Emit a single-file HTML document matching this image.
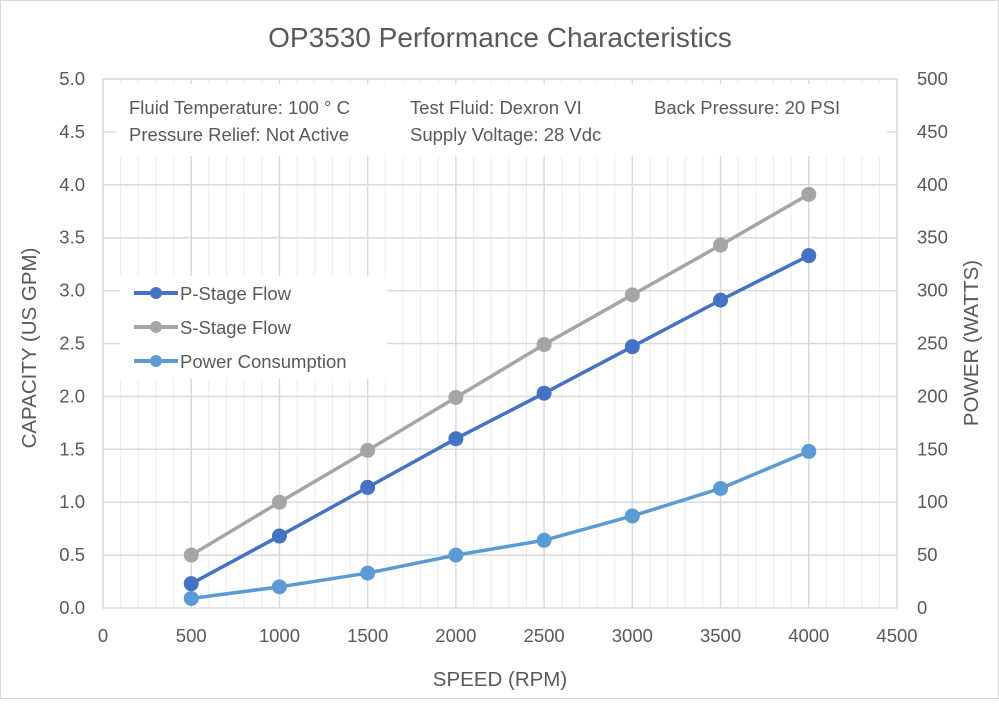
<!DOCTYPE html>
<html><head><meta charset="utf-8"><style>
body{margin:0;background:#fff}
svg text{font-family:"Liberation Sans",sans-serif;fill:#595959}
</style></head><body>
<svg width="999" height="699" xmlns="http://www.w3.org/2000/svg">
<rect x="0.5" y="0.5" width="998" height="698" fill="#fff" stroke="#d9d9d9"/>
<text x="500" y="47" font-size="28" text-anchor="middle">OP3530 Performance Characteristics</text>
<g id="grid"></g>
<rect x="116" y="84" width="771" height="72" fill="#fff"/>
<rect x="120" y="276" width="267" height="103" fill="#fff"/>
<g font-size="18.5">
<text x="129" y="114">Fluid Temperature:  100 ° C</text>
<text x="129" y="141">Pressure Relief: Not Active</text>
<text x="410" y="114">Test Fluid: Dexron VI</text>
<text x="410" y="141">Supply Voltage: 28 Vdc</text>
<text x="654" y="114">Back Pressure: 20 PSI</text>
</g>
<g id="series"></g>
<g font-size="18.5">
<line x1="134" y1="293" x2="178" y2="293" stroke="#4472C4" stroke-width="4"/><circle cx="156" cy="293" r="6" fill="#4472C4"/>
<text x="180" y="300">P-Stage Flow</text>
<line x1="134" y1="327" x2="178" y2="327" stroke="#A5A5A5" stroke-width="4"/><circle cx="156" cy="327" r="6" fill="#A5A5A5"/>
<text x="180" y="334">S-Stage Flow</text>
<line x1="134" y1="361" x2="178" y2="361" stroke="#5B9BD5" stroke-width="4"/><circle cx="156" cy="361" r="6" fill="#5B9BD5"/>
<text x="180" y="368">Power Consumption</text>
</g>
<g font-size="18.5" id="ticks"></g>
<text x="500" y="686" font-size="20.5" text-anchor="middle">SPEED (RPM)</text>
<text transform="translate(36,348) rotate(-90)" font-size="20.5" text-anchor="middle">CAPACITY (US GPM)</text>
<text transform="translate(978,343) rotate(-90)" font-size="20.5" text-anchor="middle">POWER (WATTS)</text>
</svg>
<script>
const ns="http://www.w3.org/2000/svg";
const X0=103,X1=897,Y0=608,Y1=79;
const xs=v=>X0+(X1-X0)*v/4500, ys=v=>Y0-(Y0-Y1)*v/5;
function el(p,t,a,txt){const e=document.createElementNS(ns,t);for(const k in a)e.setAttribute(k,a[k]);if(txt!=null)e.textContent=txt;document.getElementById(p).appendChild(e);}
for(let v=100;v<4500;v+=100){const maj=v%500==0;el("grid","line",{x1:xs(v),x2:xs(v),y1:Y1,y2:Y0,stroke:maj?"#d9d9d9":"#ececec","stroke-width":maj?1.5:1});}
for(let i=1;i<=10;i++){el("grid","line",{x1:X0,x2:X1,y1:ys(i/2),y2:ys(i/2),stroke:"#d9d9d9","stroke-width":1.5});}
el("grid","rect",{x:X0,y:Y1,width:X1-X0,height:Y0-Y1,fill:"none",stroke:"#d9d9d9","stroke-width":1.5});
for(let i=0;i<=10;i++){const y=ys(i/2);el("ticks","text",{x:85,y:y+6,"text-anchor":"end"},(i/2).toFixed(1));el("ticks","text",{x:917,y:y+6},String(i*50));}
for(let i=0;i<=9;i++){el("ticks","text",{x:xs(i*500),y:642,"text-anchor":"middle"},String(i*500));}
const xsV=[500,1000,1500,2000,2500,3000,3500,4000];
const S=[[0.5,1.0,1.49,1.99,2.49,2.96,3.43,3.91],"#A5A5A5"],P=[[0.23,0.68,1.14,1.60,2.03,2.47,2.91,3.33],"#4472C4"],W=[[0.09,0.20,0.33,0.50,0.64,0.87,1.13,1.48],"#5B9BD5"];
for(const [d,c] of [S,P,W]){el("series","polyline",{points:d.map((v,i)=>xs(xsV[i])+","+ys(v)).join(" "),fill:"none",stroke:c,"stroke-width":3.5});
d.forEach((v,i)=>el("series","circle",{cx:xs(xsV[i]),cy:ys(v),r:7.5,fill:c}));}
</script>
</body></html>
